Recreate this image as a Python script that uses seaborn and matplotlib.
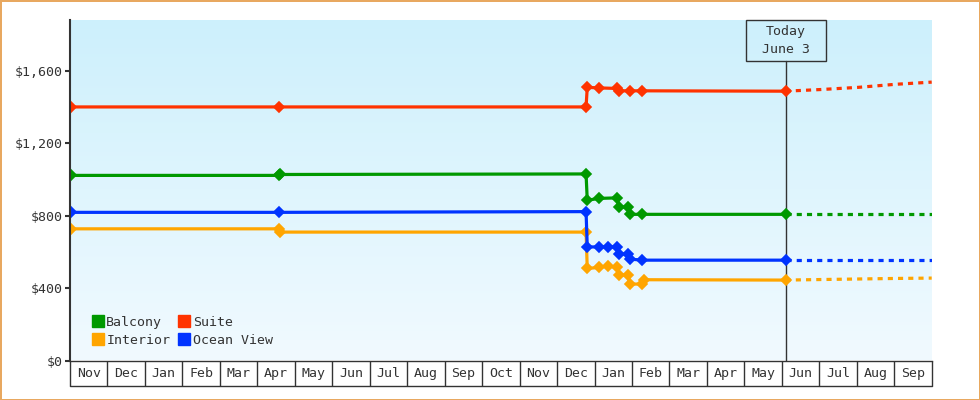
import calendar
import matplotlib
matplotlib.use("Agg")
import matplotlib.pyplot as plt
import matplotlib.transforms as mtransforms
from matplotlib.colors import LinearSegmentedColormap
from matplotlib.lines import Line2D
from matplotlib.patches import Rectangle
import numpy as np
import seaborn as sns

# ---------------- data ----------------
month_labels = ["Nov", "Dec", "Jan", "Feb", "Mar", "Apr", "May", "Jun", "Jul", "Aug",
                "Sep", "Oct", "Nov", "Dec", "Jan", "Feb", "Mar", "Apr", "May", "Jun",
                "Jul", "Aug", "Sep"]
axis_start = (2022, 11)
today = "2024-06-03"

series_names = ["Balcony", "Suite", "Interior", "Ocean View"]
series_colors = ["#009900", "#ff3300", "#ffa500", "#0033ff"]

suite_dates = ["2022-11-01", "2023-04-17", "2023-12-24", "2023-12-25", "2024-01-04",
               "2024-01-19", "2024-01-20", "2024-01-29", "2024-02-08", "2024-06-03"]
suite_prices = [1400, 1400, 1400, 1508, 1505, 1502, 1489, 1489, 1489, 1487]

balcony_dates = ["2022-11-01", "2023-04-17", "2023-04-18", "2023-12-24", "2023-12-25",
                 "2024-01-04", "2024-01-19", "2024-01-20", "2024-01-28", "2024-01-29",
                 "2024-02-08", "2024-06-03"]
balcony_prices = [1022, 1022, 1027, 1030, 885, 895, 898, 845, 849, 807, 807, 807]

ocean_dates = ["2022-11-01", "2023-04-17", "2023-12-24", "2023-12-25", "2024-01-04",
               "2024-01-11", "2024-01-19", "2024-01-20", "2024-01-28", "2024-01-29",
               "2024-02-08", "2024-06-03"]
ocean_prices = [818, 818, 822, 627, 627, 627, 627, 588, 588, 560, 554, 554]

interior_dates = ["2022-11-01", "2023-04-17", "2023-04-18", "2023-12-24", "2023-12-25",
                  "2024-01-04", "2024-01-11", "2024-01-19", "2024-01-20", "2024-01-28",
                  "2024-01-29", "2024-02-08", "2024-02-09", "2024-06-03"]
interior_prices = [727, 727, 709, 709, 508, 514, 521, 514, 472, 472, 422, 422, 446, 444]

forecast_dates = ["2024-06-03", "2024-07-01", "2024-08-01", "2024-09-01", "2024-09-30"]
suite_forecast = [1487, 1496, 1508, 1525, 1537]
balcony_forecast = [807, 807, 807, 807, 807]
ocean_forecast = [554, 554, 554, 554, 554]
interior_forecast = [444, 447, 450, 453, 455]

y_ticks = [0, 400, 800, 1200, 1600]
y_max = 1880


def month_pos(date_str):
    y, m, d = (int(v) for v in date_str.split("-"))
    idx = (y - axis_start[0]) * 12 + (m - axis_start[1])
    return idx + d / calendar.monthrange(y, m)[1]


# ---------------- figure ----------------
sns.set_theme(style="white")
plt.rcParams["font.family"] = ["DejaVu Sans Mono", "DejaVu Sans"]
ink = "#333333"

fig = plt.figure(figsize=(9.8, 4.0), dpi=100)
fig.patch.set_facecolor("white")
fig.patch.set_edgecolor("#e8a860")
fig.patch.set_linewidth(2)
ax = fig.add_axes([70 / 980, 39.5 / 400, 861.7 / 980, 340.5 / 400])

n_months = len(month_labels)

# gradient background
grad = np.linspace(0, 1, 256).reshape(-1, 1)
cmap = LinearSegmentedColormap.from_list("bg", ["#cdf0fc", "#f1faff"])
ax.imshow(grad, extent=[0, 1, 0, 1], transform=ax.transAxes, aspect="auto",
          cmap=cmap, zorder=0, interpolation="bicubic")

histories = [
    (balcony_dates, balcony_prices, balcony_forecast),
    (suite_dates, suite_prices, suite_forecast),
    (interior_dates, interior_prices, interior_forecast),
    (ocean_dates, ocean_prices, ocean_forecast),
]
fx = [month_pos(d) for d in forecast_dates]
for (dates, prices, fc), color in zip(histories, series_colors):
    xs = [month_pos(d) for d in dates]
    sns.lineplot(x=xs, y=prices, ax=ax, color=color, linewidth=2.3, marker="D",
                 markersize=5.6, markeredgewidth=1.2, markeredgecolor=color,
                 estimator=None, sort=False, legend=False, zorder=4)
    sns.lineplot(x=fx, y=fc, ax=ax, color=color, linewidth=2.3,
                 linestyle=(0, (1.6, 1.6)), estimator=None, sort=False,
                 legend=False, zorder=3)

ax.set_xlim(0, n_months)
ax.set_ylim(0, y_max)
ax.set_xlabel("")
ax.set_ylabel("")

# y axis
ax.set_yticks(y_ticks)
ax.set_yticklabels([f"${v:,}" for v in y_ticks])
ax.tick_params(axis="y", which="major", length=3.5, width=1.5, color=ink,
               labelcolor=ink, labelsize=9.5, pad=2, left=True)

# x axis: month cells
ax.set_xticks(np.arange(0, n_months + 1))
ax.set_xticklabels([""] * (n_months + 1))
ax.set_xticks(np.arange(n_months) + 0.5, minor=True)
ax.set_xticklabels(month_labels, minor=True)
ax.tick_params(axis="x", which="major", length=18, width=1, color=ink,
               direction="out", bottom=True)
ax.tick_params(axis="x", which="minor", length=0, labelsize=9.5,
               labelcolor=ink, pad=5, bottom=True)
trans = mtransforms.blended_transform_factory(ax.transData, ax.transAxes) + \
    mtransforms.ScaledTranslation(0, -18 / 72, fig.dpi_scale_trans)
ax.add_line(Line2D([0, n_months], [0, 0], transform=trans, color=ink, lw=1,
                   clip_on=False))

for side in ["top", "right"]:
    ax.spines[side].set_visible(False)
ax.spines["left"].set_color(ink)
ax.spines["left"].set_linewidth(1.5)
ax.spines["left"].set_zorder(6)
ax.spines["bottom"].set_color(ink)
ax.spines["bottom"].set_linewidth(1)
ax.grid(False)

# today marker
tx = month_pos(today)
box_bottom = (340.5 - 40.7) / 340.5
ax.axvline(tx, ymin=0, ymax=box_bottom, color=ink, lw=1, zorder=2)
px_per_unit = 861.7 / n_months
box_w = 80 / px_per_unit
blend = mtransforms.blended_transform_factory(ax.transData, ax.transAxes)
ax.add_patch(Rectangle((tx - box_w / 2, box_bottom), box_w, 1 - box_bottom,
                       transform=blend, facecolor="none", edgecolor=ink, lw=1,
                       clip_on=False, zorder=5))
ax.text(tx, (1 + box_bottom) / 2, "Today\nJune 3", transform=blend, ha="center",
        va="center", fontsize=9.5, color=ink, linespacing=1.55, zorder=6)

# legend (column-major fill -> rows: Balcony, Suite / Interior, Ocean View)
order = [0, 2, 1, 3]
handles = [Line2D([], [], marker="s", linestyle="none", markersize=8,
                  markerfacecolor=series_colors[i], markeredgecolor=series_colors[i])
           for i in order]
labels = [series_names[i] for i in order]
leg = ax.legend(handles, labels, ncol=2, loc="lower left",
                bbox_to_anchor=(0.026, 0.04), frameon=False, fontsize=9.5,
                handlelength=0.8, handletextpad=0.25, columnspacing=0.65,
                labelspacing=0.38, borderpad=0, borderaxespad=0)
for t in leg.get_texts():
    t.set_color(ink)

fig.savefig("out.png", dpi=100)
